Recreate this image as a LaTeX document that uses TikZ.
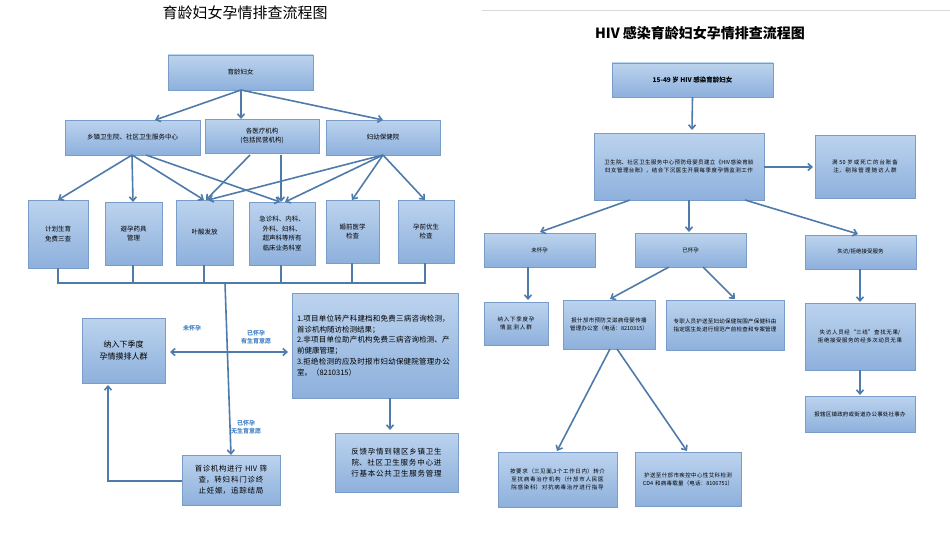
\documentclass[tikz,border=0pt]{standalone}
\usepackage{fontspec}
\setmainfont{Noto Sans CJK SC}
\XeTeXlinebreaklocale "zh"
\XeTeXlinebreakskip=0pt plus 1pt
\usetikzlibrary{arrows.meta}
\begin{document}
\begin{tikzpicture}[x=1pt,y=-1pt,
 arr/.style={draw=arrc, line width=1.6pt, -{Straight Barb[length=4pt,width=7pt]}},
 ln/.style={draw=arrc, line width=1.4pt},
 lab/.style={text=labc, font=\bfseries\fontsize{6}{8}\selectfont, align=center},
 txt/.style={font=\fontsize{#1}{\fpeval{#1*1.45}}\selectfont, align=center}]
\definecolor{arrc}{HTML}{4F7BAB}
\definecolor{labc}{HTML}{4A86C8}
\definecolor{brd}{HTML}{7A9CC8}
\definecolor{tp}{HTML}{BCD3EE}
\definecolor{bt}{HTML}{8DB0DC}
\useasboundingbox (0,0) rectangle (950,535);
\fill[white] (0,0) rectangle (950,535);
\newcommand{\bxx}[5]{% name x1 y1 x2 y2
 \shade[top color=tp,bottom color=bt,draw=brd,line width=0.8pt] (#2,#3) rectangle (#4,#5);
 \coordinate (#1) at ({(#2+#4)/2},{(#3+#5)/2});
 \coordinate (#1-n) at ({(#2+#4)/2},#3); \coordinate (#1-s) at ({(#2+#4)/2},#5);}
% titles
\node[font=\fontsize{15}{18}\selectfont] (t1) at (245,13) {育龄妇女孕情排查流程图};
\node[font=\bfseries\fontsize{14}{17}\selectfont] (t2) at (700,33) {HIV 感染育龄妇女孕情排查流程图};
\draw[black!15, line width=0.6pt] (482,10) -- (950,10);
% ---------- left ----------
\bxx{a}{168}{55}{313}{90}
\bxx{b1}{65}{120}{200}{155}
\bxx{b2}{205}{119}{319}{153}
\bxx{b3}{326}{120}{440}{155}
\bxx{c1}{28}{200}{88}{268}
\bxx{c2}{105}{202}{162}{265}
\bxx{c3}{176}{200}{233}{265}
\bxx{c4}{249}{202}{315}{265}
\bxx{c5}{326}{200}{379}{263}
\bxx{c6}{398}{200}{454}{263}
\bxx{d1}{82}{318}{165}{383}
\bxx{d2}{292}{293}{458}{398}
\bxx{d3}{182}{455}{280}{505}
\bxx{d4}{335}{433}{458}{492}
\node[txt=6.5] (ta) at (a) {育龄妇女};
\node[txt=6.5] (tb1) at (b1) {乡镇卫生院、社区卫生服务中心};
\node[txt=6.5] (tb2) at (b2) {各医疗机构\\(包括民营机构)};
\node[txt=6.5] (tb3) at (b3) {妇幼保健院};
\node[txt=6.5] (tc1) at (c1) {计划生育\\免费三查};
\node[txt=6.5] (tc2) at (c2) {避孕药具\\管理};
\node[txt=6.5] (tc3) at (c3) {叶酸发放};
\node[txt=6.5] (tc4) at (c4) {急诊科、内科、\\外科、妇科、\\超声科等所有\\临床业务科室};
\node[txt=6.5] (tc5) at (c5) {婚前医学\\检查};
\node[txt=6.5] (tc6) at (c6) {孕前优生\\检查};
\node[txt=8] (td1) at (d1) {纳入下季度\\孕情摸排人群};
\node[txt=7.5, text width=156pt, align=left] (td2) at (d2) {1.项目单位转产科建档和免费三病咨询检测，首诊机构随访检测结果；\\2.非项目单位助产机构免费三病咨询检测、产前健康管理；\\3.拒绝检测的应及时报市妇幼保健院管理办公室。（8210315）};
\node[txt=7.5, text width=90pt] (td3) at (d3) {首诊机构进行 HIV 筛查，转妇科门诊终止妊娠，追踪结局};
\node[txt=7.5, text width=114pt] (td4) at (d4) {反馈孕情到辖区乡镇卫生院、社区卫生服务中心进行基本公共卫生服务管理};
\coordinate (ao) at (241,90);
\draw[arr] (ao) -- (155,120);
\draw[arr] (ao) -- (241,119);
\draw[arr] (ao) -- (383,120);
\coordinate (b1o) at (132,155);
\draw[arr] (b1o) -- (58,200);
\draw[arr] (b1o) -- (133,202);
\draw[arr] (b1o) -- (204,200);
\draw[arr] (146,155) -- (280,202);
\draw[arr] (250,155) -- (206,200);
\draw[arr] (281,155) -- (281,202);
\coordinate (b3o) at (383,155);
\draw[arr] (b3o) -- (208,200);
\draw[arr] (b3o) -- (285,202);
\draw[arr] (b3o) -- (352,200);
\draw[arr] (b3o) -- (425,200);
\coordinate (bus) at (225,283);
\draw[ln] (58,268) |- (425,283) -- (425,263);
\foreach \xx/\yy in {133/265,204/265,281/265,352/263}{\draw[ln] (\xx,\yy) -- (\xx,283);}
\coordinate (jn) at (225,352);
\draw[arr] (bus) -- (d3-n);
\draw[arr] (jn) -- (170,352);
\draw[arr] (jn) -- (288,352);
\draw[arr] (182,481) -| (108,385);
\draw[arr] (390,398) -- (390,430);
\node[lab] (l1) at (192,328) {未怀孕};
\node[lab] (l2) at (256,337) {已怀孕\\有生育意愿};
\node[lab] (l3) at (246,427) {已怀孕\\无生育意愿};
% ---------- right ----------
\bxx{r0}{612}{63}{773}{97}
\bxx{r1}{594}{133}{764}{200}
\bxx{r2}{815}{135}{915}{198}
\bxx{s1}{484}{233}{595}{267}
\bxx{s2}{635}{233}{746}{267}
\bxx{s3}{805}{235}{916}{269}
\bxx{u1}{484}{302}{548}{345}
\bxx{u2}{563}{300}{655}{349}
\bxx{u3}{666}{300}{784}{350}
\bxx{u4}{805}{303}{915}{370}
\bxx{u5}{805}{396}{915}{432}
\bxx{v1}{498}{452}{617}{507}
\bxx{v2}{635}{452}{741}{506}
\node[font=\bfseries\fontsize{6.5}{9}\selectfont] (tr0) at (r0) {15-49 岁 HIV 感染育龄妇女};
\node[txt=5.5, text width=158pt] (tr1) at (r1) {卫生院、社区卫生服务中心预防母婴员建立《HIV感染育龄妇女管理台账》，结合下沉医生开展每季度孕情监测工作};
\node[txt=5.5, text width=86pt] (tr2) at (r2) {满 50 岁或死亡的台账备注，剔除管理随访人群};
\node[txt=5.5] (ts1) at (s1) {未怀孕};
\node[txt=5.5] (ts2) at (s2) {已怀孕};
\node[txt=5.5] (ts3) at (s3) {失访/拒绝接受服务};
\node[txt=5.5, text width=54pt] (tu1) at (u1) {纳入下季度孕情监测人群};
\node[txt=5.5, text width=82pt] (tu2) at (u2) {报什邡市预防艾滋病母婴传播管理办公室（电话：8210315）};
\node[txt=5.5, text width=108pt] (tu3) at (u3) {专职人员护送至妇幼保健院围产保健科由指定医生处进行规范产前检查和专案管理};
\node[txt=5.5, text width=96pt] (tu4) at (u4) {失访人员经“三线”查找无果/拒绝接受服务的经多次动员无果};
\node[txt=5.5, text width=96pt] (tu5) at (u5) {报辖区镇政府或街道办公事处社事办};
\node[txt=5.5, text width=109pt] (tv1) at (v1) {按要求（三见面,3个工作日内）转介至抗病毒治疗机构（什邡市人民医院感染科）对抗病毒治疗进行指导};
\node[txt=5.5, text width=96pt] (tv2) at (v2) {护送至什邡市疾控中心性艾科检测 CD4 和病毒载量（电话：8106751）};
\draw[arr] (r0-s) -- (692,130);
\draw[arr] (764,167) -- (813,167);
\draw[arr] (630,200) -- (540,232);
\draw[arr] (689,200) -- (689,232);
\draw[arr] (745,200) -- (858,234);
\draw[arr] (528,267) -- (528,300);
\draw[arr] (669,267) -- (610,299);
\draw[arr] (703,267) -- (735,299);
\draw[arr] (610,349) -- (557,451);
\draw[arr] (617,349) -- (687,451);
\draw[arr] (860,269) -- (860,302);
\draw[arr] (860,370) -- (860,395);
\end{tikzpicture}
\end{document}
